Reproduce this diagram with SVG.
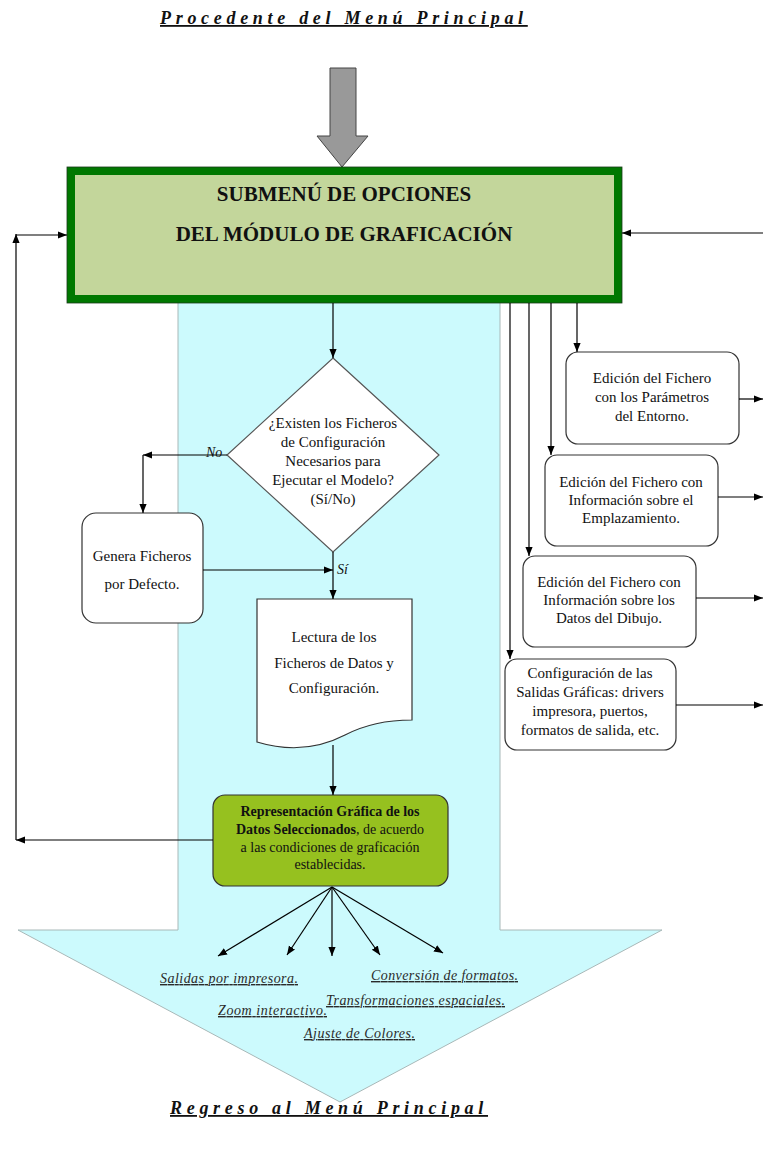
<svg xmlns="http://www.w3.org/2000/svg" width="763" height="1149" viewBox="0 0 763 1149">
  <defs>
    <marker id="ah" viewBox="0 0 10 10" refX="10" refY="5" markerWidth="9" markerHeight="9" markerUnits="userSpaceOnUse" orient="auto">
      <path d="M0,1 L10,5 L0,9 z" fill="#000"/>
    </marker>
    <style>
      text { font-family: "Liberation Serif", "Times New Roman", serif; fill: #111; }
      .t15 { font-size: 15px; text-anchor: middle; }
      .t14 { font-size: 14px; text-anchor: middle; }
      .head { font-size: 21px; font-weight: bold; text-anchor: middle; }
      .title { font-size: 18px; font-weight: bold; font-style: italic; text-decoration: underline; letter-spacing: 4.7px; }
      .opt { font-size: 14px; font-style: italic; text-decoration: underline; fill: #2a2a2a; }
      .lbl { font-size: 14px; font-style: italic; }
      .box { fill: #fff; stroke: #333; stroke-width: 1.2; }
      .cn { fill: none; stroke: #000; stroke-width: 1.2; marker-end: url(#ah); }
    </style>
  </defs>

  <rect width="763" height="1149" fill="#fff"/>

  <!-- big flow arrow in the background -->
  <path id="flow" d="M178,300 H500 V930 H662 L340,1102 L18,930 H178 Z" fill="#ccfafd" stroke="#a8b8b8" stroke-width="1"/>

  <!-- header caption -->
  <text class="title" x="160" y="24">Procedente del Menú Principal</text>

  <!-- entry arrow -->
  <path id="entry" d="M330,68 H356 V136 H368 L342,167 L317,136 H330 Z" fill="#999" stroke="#444" stroke-width="1"/>

  <!-- submenu -->
  <g id="submenu">
    <rect x="71" y="171" width="547" height="128" fill="#c3d69b" stroke="#007800" stroke-width="8"/>
    <rect x="67" y="167" width="555" height="136" fill="none" stroke="#1a3a1a" stroke-width="0.8"/>
    <text class="head" x="344" y="201">SUBMENÚ DE OPCIONES</text>
    <text class="head" x="344" y="241">DEL MÓDULO DE GRAFICACIÓN</text>
  </g>

  <!-- decision -->
  <g id="decision">
    <polygon points="333,358 439,455 333,552 227,455" fill="#fff" stroke="#555" stroke-width="1.2"/>
    <text class="t15" x="333" y="428">¿Existen los Ficheros</text>
    <text class="t15" x="333" y="447">de Configuración</text>
    <text class="t15" x="333" y="466">Necesarios para</text>
    <text class="t15" x="333" y="485">Ejecutar el Modelo?</text>
    <text class="t15" x="333" y="504">(Sí/No)</text>
  </g>

  <!-- default files -->
  <g id="defaults">
    <rect class="box" x="82" y="513" width="121" height="110" rx="14"/>
    <text class="t15" x="142" y="561">Genera Ficheros</text>
    <text class="t15" x="142" y="589">por Defecto.</text>
  </g>

  <!-- reading document -->
  <g id="reading">
    <path class="box" d="M257,599 H412 V720 C395,720 370,722 345,735 C320,748 290,752 257,742 Z"/>
    <text class="t15" x="334" y="642">Lectura de los</text>
    <text class="t15" x="334" y="668">Ficheros de  Datos y</text>
    <text class="t15" x="334" y="693">Configuración.</text>
  </g>

  <!-- plotting -->
  <g id="plot">
    <rect x="213" y="795" width="235" height="91" rx="12" fill="#96c11f" stroke="#333" stroke-width="1.2"/>
    <text class="t14" x="330" y="816"><tspan font-weight="bold">Representación  Gráfica  de los</tspan></text>
    <text class="t14" x="330" y="834"><tspan font-weight="bold">Datos  Seleccionados</tspan>, de acuerdo</text>
    <text class="t14" x="330" y="852">a las condiciones de graficación</text>
    <text class="t14" x="330" y="869">establecidas.</text>
  </g>

  <!-- edit boxes -->
  <g id="edit-env">
    <rect class="box" x="566" y="352" width="173" height="92" rx="12"/>
    <text class="t15" x="652" y="383">Edición del Fichero</text>
    <text class="t15" x="652" y="402">con los Parámetros</text>
    <text class="t15" x="652" y="421">del Entorno.</text>
  </g>
  <g id="edit-site">
    <rect class="box" x="545" y="455" width="173" height="91" rx="12"/>
    <text class="t15" x="631" y="487">Edición del Fichero con</text>
    <text class="t15" x="631" y="505">Información sobre el</text>
    <text class="t15" x="631" y="523">Emplazamiento.</text>
  </g>
  <g id="edit-draw">
    <rect class="box" x="523" y="556" width="173" height="91" rx="12"/>
    <text class="t15" x="609" y="587">Edición del Fichero con</text>
    <text class="t15" x="609" y="605">Información sobre los</text>
    <text class="t15" x="609" y="623">Datos del Dibujo.</text>
  </g>
  <g id="output-cfg">
    <rect class="box" x="505" y="659" width="171" height="91" rx="12"/>
    <text class="t15" x="590" y="678">Configuración de las</text>
    <text class="t15" x="590" y="697">Salidas Gráficas:  drivers</text>
    <text class="t15" x="590" y="716">impresora, puertos,</text>
    <text class="t15" x="590" y="735">formatos de salida, etc.</text>
  </g>

  <!-- connectors -->
  <g id="connectors">
    <path class="cn" d="M333,303 V358"/>
    <path class="cn" d="M227,455 H143"/>
    <path class="cn" d="M143,455 V513"/>
    <path class="cn" d="M203,570 H333"/>
    <path class="cn" d="M333,552 V599"/>
    <path class="cn" d="M333,745 V795"/>
    <path class="cn" d="M577,303 V352"/>
    <path class="cn" d="M551,303 V455"/>
    <path class="cn" d="M529,303 V556"/>
    <path class="cn" d="M510,303 V659"/>
    <path class="cn" d="M739,399 H763"/>
    <path class="cn" d="M718,497 H763"/>
    <path class="cn" d="M696,598 H763"/>
    <path class="cn" d="M676,705 H763"/>
    <path class="cn" d="M763,233 H622"/>
    <path class="cn" d="M213,840 H16"/>
    <path class="cn" d="M16,840 V234"/>
    <path class="cn" d="M16,235 H67"/>
    <path class="cn" d="M332,887 L218,956"/>
    <path class="cn" d="M332,887 L287,955"/>
    <path class="cn" d="M332,887 V956"/>
    <path class="cn" d="M332,887 L380,955"/>
    <path class="cn" d="M332,887 L443,953"/>
    <text class="lbl" x="206" y="457">No</text>
    <text class="lbl" x="337" y="574">Sí</text>
  </g>

  <!-- plotting options -->
  <text class="opt" x="160" y="983" textLength="138" lengthAdjust="spacing">Salidas por impresora.</text>
  <text class="opt" x="371" y="980" textLength="147" lengthAdjust="spacing">Conversión de formatos.</text>
  <text class="opt" x="326" y="1005" textLength="179" lengthAdjust="spacing">Transformaciones espaciales.</text>
  <text class="opt" x="218" y="1015" textLength="109" lengthAdjust="spacing">Zoom interactivo.</text>
  <text class="opt" x="304" y="1038" textLength="111" lengthAdjust="spacing">Ajuste de Colores.</text>

  <!-- footer caption -->
  <text class="title" x="170" y="1114" letter-spacing="5.3">Regreso al Menú Principal</text>
</svg>
